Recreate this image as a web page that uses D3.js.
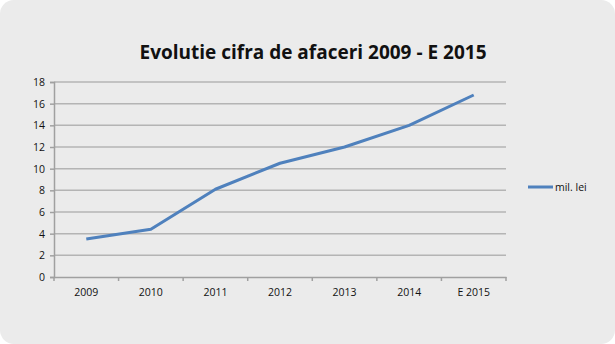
<!DOCTYPE html>
<html><head><meta charset="utf-8">
<script src="https://cdn.jsdelivr.net/npm/d3@7"></script>
<style>body{margin:0;background:#fff}svg{display:block}</style>
</head><body>
<script>
const categories = ["2009","2010","2011","2012","2013","2014","E 2015"];
const values = [3.5, 4.4, 8.1, 10.5, 12.0, 14.0, 16.8];
const yTicks = [0,2,4,6,8,10,12,14,16,18];
const seriesName = "mil. lei";
const title = "Evolutie cifra de afaceri 2009 - E 2015";

(function(){
const W = 615, H = 344;
const svg = d3.select("body").append("svg").attr("width", W).attr("height", H);
svg.append("rect").attr("x",0).attr("y",0).attr("width",W).attr("height",H)
  .attr("rx",14).attr("fill","#ebebeb");

const pL = 54, pR = 506, pT = 82, pB = 277;
const x = d3.scaleBand().domain(categories).range([pL, pR]);
const y = d3.scaleLinear().domain([0, 18]).range([pB, pT]);

// gridlines
svg.append("g").selectAll("line").data(yTicks.filter(d=>d>0)).join("line")
  .attr("x1", pL).attr("x2", pR)
  .attr("y1", d=>y(d)).attr("y2", d=>y(d))
  .attr("stroke","#b4b4b4").attr("stroke-width",1.5);

const font = "'Open Sans', 'Liberation Sans', sans-serif";

// y axis
const yAxis = svg.append("g").attr("transform",`translate(${pL},0)`)
  .call(d3.axisLeft(y).tickValues(yTicks).tickSize(4).tickPadding(5));
yAxis.select(".domain").attr("stroke","#a0a0a0").attr("stroke-width",1.5);
yAxis.selectAll(".tick line").attr("stroke","#a0a0a0").attr("stroke-width",1.5);
yAxis.selectAll("text").attr("font-family",font).attr("font-size",10.5).attr("fill","#111");

// x axis
const xAxis = svg.append("g").attr("transform",`translate(0,${pB})`)
  .call(d3.axisBottom(x).tickSize(0).tickPadding(12));
xAxis.select(".domain").attr("stroke","#a0a0a0").attr("stroke-width",1.5);
xAxis.selectAll("text").attr("font-family",font).attr("font-size",10.5).attr("fill","#111");
const bounds = categories.map(c=>x(c)).concat([pR]);
svg.append("g").selectAll("line").data(bounds).join("line")
  .attr("x1",d=>d).attr("x2",d=>d).attr("y1",pB).attr("y2",pB+4)
  .attr("stroke","#a0a0a0").attr("stroke-width",1.5);

// line
const line = d3.line().x((d,i)=>x(categories[i]) + x.bandwidth()/2).y(d=>y(d));
svg.append("path").datum(values).attr("d", line)
  .attr("fill","none").attr("stroke","#4f81bd").attr("stroke-width",3)
  .attr("stroke-linejoin","round").attr("stroke-linecap","butt");

// title
svg.append("text").attr("x",313).attr("y",59).attr("text-anchor","middle")
  .attr("font-family",font).attr("font-weight","bold").attr("font-size",19)
  .attr("fill","#111").text(title);

// legend
svg.append("line").attr("x1",528).attr("x2",553).attr("y1",187).attr("y2",187)
  .attr("stroke","#4f81bd").attr("stroke-width",3);
svg.append("text").attr("x",555).attr("y",191).attr("font-family",font)
  .attr("font-size",10.5).attr("fill","#111").text(seriesName);
})();
</script>
</body></html>
